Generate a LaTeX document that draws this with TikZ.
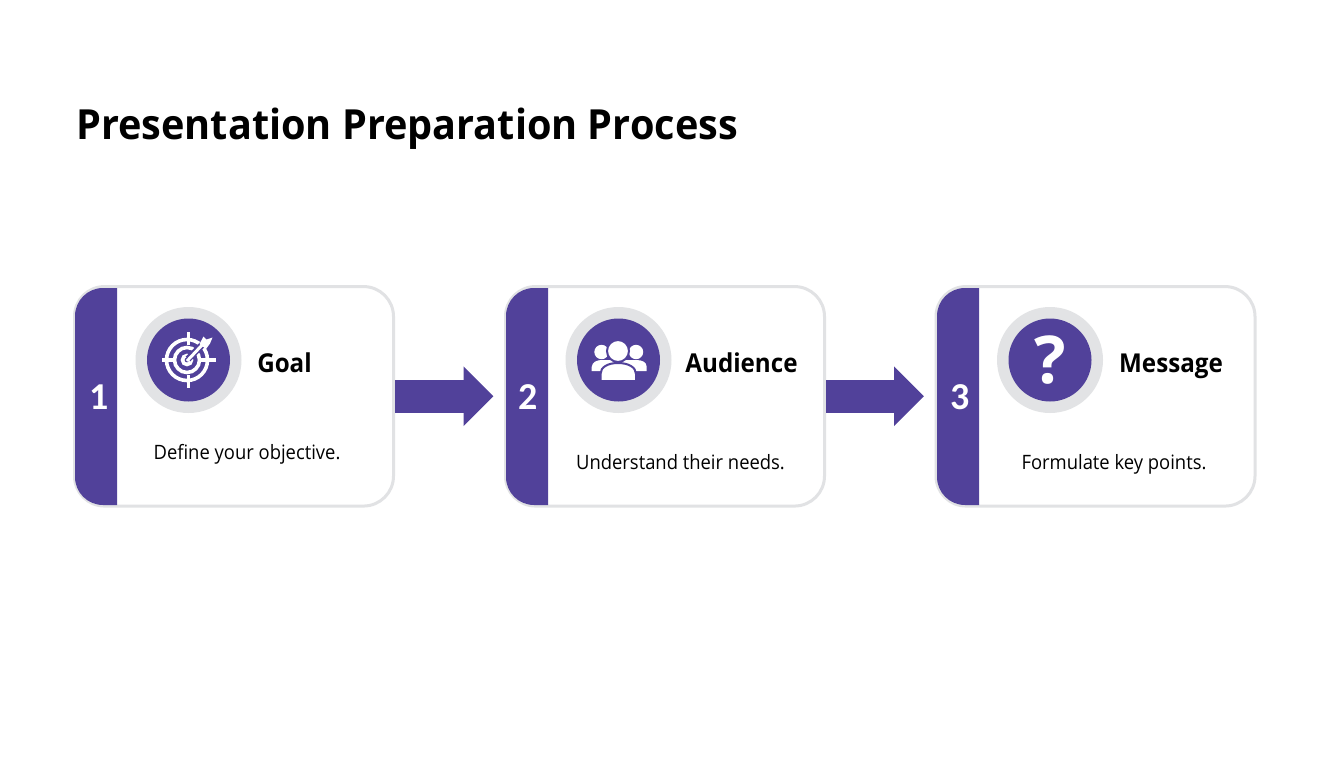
\documentclass[tikz,border=0pt]{standalone}
\usepackage{fontspec}
\setmainfont[Ligatures=NoCommon]{Carlito}
\newfontfamily\titlefont[FakeStretch=0.955]{Open Sans}
\newfontfamily\bodyfont[FakeStretch=0.93]{Open Sans}
\newfontfamily\qfont{Open Sans}
\usetikzlibrary{arrows.meta}
\definecolor{brandpurple}{HTML}{51419A}
\definecolor{cardline}{HTML}{E1E2E4}
\definecolor{ringgray}{HTML}{E2E3E5}
\tikzset{
  x=1pt,y=-1pt,
  card/.style={draw=cardline,line width=3pt,fill=white,rounded corners=30pt,minimum width=319pt,minimum height=219.5pt,inner sep=0pt,outer sep=0pt},
  stripe/.style={fill=brandpurple},
  flow/.style={draw=brandpurple,line width=33pt,-{Triangle[length=30pt,width=58pt]},shorten >=12pt,shorten <=1.5pt},
  ring/.style={circle,fill=ringgray,minimum size=106pt,inner sep=0pt},
  disc/.style={circle,fill=brandpurple,minimum size=83pt,inner sep=0pt},
  num/.style={text=white,font=\bfseries\fontsize{38}{38}\selectfont,inner sep=0pt},
  head/.style={text=black,font=\bodyfont\bfseries\fontsize{26}{30}\selectfont,inner sep=0pt,anchor=base},
  desc/.style={text=black,font=\bodyfont\fontsize{19.8}{24}\selectfont,inner sep=0pt,anchor=base},
  ttl/.style={text=black,font=\titlefont\bfseries\fontsize{41.5}{46}\selectfont,inner sep=0pt,anchor=base west},
  iconline/.style={draw=white,line width=3.6pt},
  iconfill/.style={fill=white},
  iconcut/.style={fill=white,draw=brandpurple,line width=2pt},
}
\begin{document}
\begin{tikzpicture}
\useasboundingbox (0,0) rectangle (1344,768);
\fill[white] (0,0) rectangle (1344,768);
\node[ttl] (title) at (76,139) {Presentation Preparation Process};

\node[card] (card1) at (234,396.3) {};
\node[card] (card2) at (665,396.3) {};
\node[card] (card3) at (1095.5,396.3) {};
\foreach \cx in {75,506,937}{
  \fill[stripe] (\cx+42,288) [rounded corners=28pt] -- (\cx,288) -- (\cx,505) [sharp corners] -- (\cx+42,505) -- cycle;
}
\draw[flow] (card1.east) -- (card2.west);
\draw[flow] (card2.east) -- (card3.west);

\node[num] (n1) at (99,397) {1};
\node[num] (n2) at (528.5,397) {2};
\node[num] (n3) at (960,397) {3};

\node[ring] (r1) at (188.5,360) {};
\node[disc] (d1) at (r1) {};
\node[ring] (r2) at (618.5,360) {};
\node[disc] (d2) at (r2) {};
\node[ring] (r3) at (1050,360) {};
\node[disc] (d3) at (r3) {};

% target icon
\draw[iconline] (187,360) circle[radius=20.5];
\draw[iconline] (187,360) circle[radius=12.5];
\draw[iconline] (187,360) circle[radius=4.5];
\draw[iconline] (188.5,332) -- (188.5,345);
\draw[iconline] (188.5,375) -- (188.5,388);
\draw[iconline] (162,360) -- (174,360);
\draw[iconline] (201,360) -- (216,360);
\draw[brandpurple,line width=6.5pt] (188,359) -- (205,342);
\draw[white,line width=3pt] (187,361) -- (204,343);
\fill[white] (199.5,344) -- (203.5,336.5) -- (206.5,339.5) -- (212.5,337.5) -- (210,343.5) -- (206,349) -- cycle;

% people icon
\fill[iconfill] (601.5,352) circle[radius=7.2];
\fill[iconfill] (636,352) circle[radius=7.2];
\fill[iconfill] (591.7,371) -- (591.7,367) .. controls (592,362) and (597,360) .. (602,360) -- (636,360) .. controls (642,360) and (646.7,362) .. (646.7,367) -- (646.7,371) -- cycle;
\fill[iconcut] (618,351) circle[radius=11];
\fill[iconcut] (600.5,381) -- (600.5,374) .. controls (600.5,367) and (608,363) .. (618,363) .. controls (628,363) and (636,367) .. (636,374) -- (636,381) -- cycle;

\node[text=white,font=\qfont\bfseries\fontsize{66}{66}\selectfont,inner sep=0pt] (q3) at (1050,360) {?};

\node[head] (h1) at (284.5,372) {Goal};
\node[head] (h2) at (741.5,372) {Audience};
\node[head] (h3) at (1171,372) {Message};
\node[desc] (t1) at (247,459) {Define your objective.};
\node[desc] (t2) at (680.5,469) {Understand their needs.};
\node[desc] (t3) at (1114,469) {Formulate key points.};
\end{tikzpicture}
\end{document}
